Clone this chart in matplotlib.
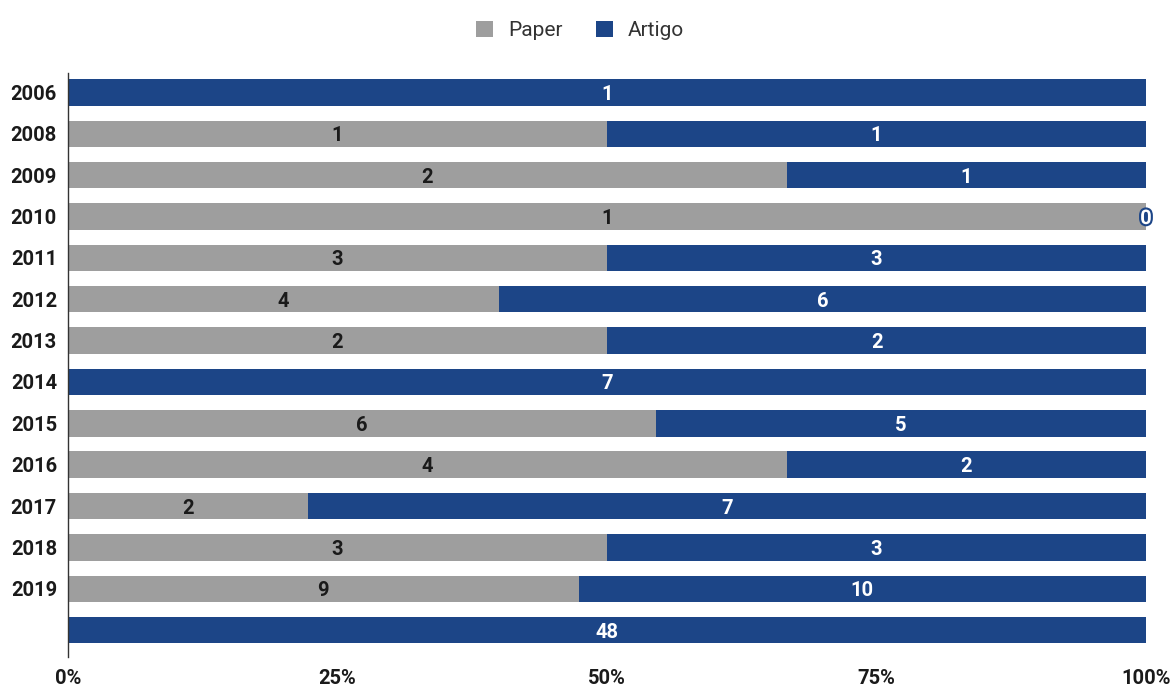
import matplotlib.pyplot as plt
import matplotlib.patheffects as pe
import numpy as np

years = ['2006', '2008', '2009', '2010', '2011', '2012', '2013', '2014',
         '2015', '2016', '2017', '2018', '2019', '']
paper = [0, 1, 2, 1, 3, 4, 2, 0, 6, 4, 2, 3, 9, 0]
artigo = [1, 1, 1, 0, 3, 6, 2, 7, 5, 2, 7, 3, 10, 48]

GRAY = '#9e9e9e'
BLUE = '#1c4587'

plt.rcParams['font.family'] = ['Roboto', 'DejaVu Sans']

fig = plt.figure(figsize=(11.74, 6.87), dpi=100)
ax = fig.add_axes([68 / 1174, 1 - 657 / 687, (1146 - 68) / 1174, (657 - 73) / 687])

p = np.array(paper, dtype=float)
a = np.array(artigo, dtype=float)
tot = p + a
p_pct = p / tot * 100
a_pct = a / tot * 100
y = np.arange(len(years))

ax.barh(y, p_pct, height=0.64, color=GRAY, label='Paper')
ax.barh(y, a_pct, left=p_pct, height=0.64, color=BLUE, label='Artigo')

for i in range(len(years)):
    if paper[i] > 0:
        ax.text(p_pct[i] / 2, y[i], str(paper[i]), ha='center', va='center_baseline',
                fontsize=14.5, fontweight='bold', color='#1a1a1a')
    if artigo[i] > 0:
        ax.text(p_pct[i] + a_pct[i] / 2, y[i], str(artigo[i]), ha='center', va='center_baseline',
                fontsize=14.5, fontweight='bold', color='white')
    else:
        ax.text(100, y[i], str(artigo[i]), ha='center', va='center_baseline',
                fontsize=14.5, fontweight='bold', color='white',
                path_effects=[pe.withStroke(linewidth=3, foreground=BLUE)])

ax.set_xlim(0, 100)
ax.set_ylim(13.65, -0.47)
ax.set_yticks(y, years)
ax.set_xticks([0, 25, 50, 75, 100], ['0%', '25%', '50%', '75%', '100%'])
ax.tick_params(length=0, labelsize=14.5)
ax.tick_params(axis='x', pad=9)
ax.tick_params(axis='y', pad=8)
for lab in ax.get_xticklabels() + ax.get_yticklabels():
    lab.set_fontweight('bold')
    lab.set_color('#1a1a1a')
for s in ['top', 'right', 'bottom']:
    ax.spines[s].set_visible(False)
ax.spines['left'].set_color('#333333')
ax.spines['left'].set_linewidth(1)

fig.legend(loc='upper center', bbox_to_anchor=(0.494, 0.997), ncol=2, frameon=False,
           fontsize=15, handlelength=0.85, handleheight=0.85, columnspacing=1.6,
           handletextpad=0.7, labelcolor='#333333')

fig.savefig('out.png', dpi=100, facecolor='white')
